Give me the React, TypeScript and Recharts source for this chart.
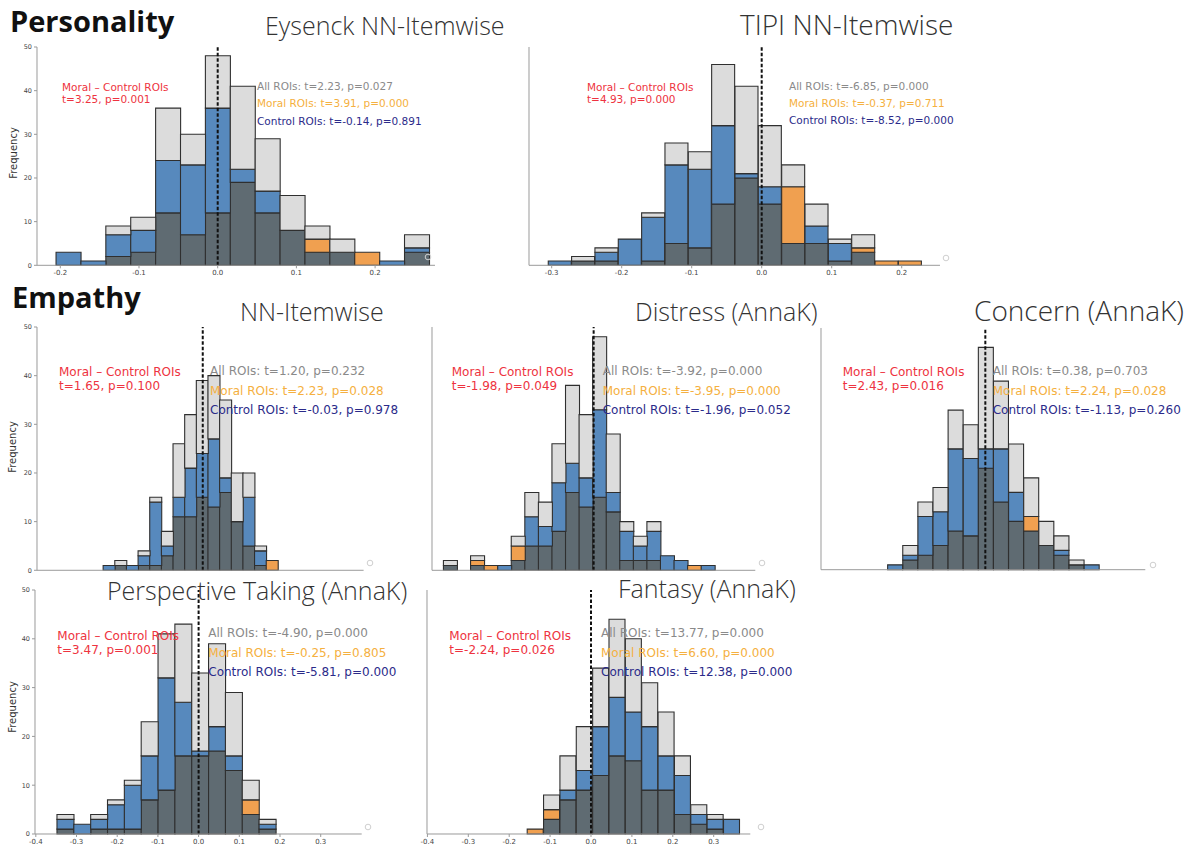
import React from 'react';
import { BarChart, Bar, XAxis, YAxis, ReferenceLine, Cell } from 'recharts';

// colours of the overlaid histograms
const LIGHT = '#dcdcdc';
const BLUE = '#5789bd';
const ORANGE = '#f0a050';
const DARK = '#5f6b72';
const EDGE = '#2f2f2f';

const RED_TXT = '#ee3340';
const GRAY_TXT = '#8a8a8a';
const ORANGE_TXT = '#f5b040';
const NAVY_TXT = '#2b2b8a';

const yTicks = [0, 10, 20, 30, 40, 50];

// Eysenck NN-Itemwise
const eysenckBins = [-0.2054, 0.269];
const eysenckMoral = [0, 0, 2, 3, 12, 7, 12, 19, 12, 8, 6, 3, 3, 0, 3];
const eysenckControl = [3, 1, 7, 8, 24, 23, 36, 22, 17, 8, 3, 3, 0, 1, 4];
const eysenckStats = ['t=3.25, p=0.001', 't=2.23, p=0.027', 't=3.91, p=0.000', 't=-0.14, p=0.891'];

// TIPI NN-Itemwise
const tipiBins = [-0.3049, 0.2286];
const tipiMoral = [0, 1, 1, 0, 1, 5, 4, 14, 20, 14, 18, 5, 1, 4, 1, 1];
const tipiControl = [1, 1, 3, 6, 11, 23, 22, 32, 21, 18, 5, 9, 5, 3, 0, 0];
const tipiStats = ['t=4.93, p=0.000', 't=-6.85, p=0.000', 't=-0.37, p=0.711', 't=-8.52, p=0.000'];

// Empathy NN-Itemwise
const nnBins = [-0.244, 0.184];
const nnMoral = [0, 1, 0, 1, 1, 3, 11, 11, 15, 13, 16, 10, 5, 1, 2];
const nnControl = [1, 1, 1, 3, 14, 5, 15, 21, 24, 27, 19, 10, 15, 4, 0];
const nnStats = ['t=1.65, p=0.100', 't=1.20, p=0.232', 't=2.23, p=0.028', 't=-0.03, p=0.978'];

// Distress (AnnaK)
const distressBins = [-0.368, 0.2966];
const distressMoral = [1, 0, 2, 1, 0, 5, 5, 5, 8, 16, 13, 15, 12, 2, 2, 2, 0, 0, 1, 0];
const distressControl = [1, 0, 1, 0, 1, 2, 11, 9, 18, 22, 19, 33, 16, 8, 5, 8, 3, 2, 0, 1];
const distressStats = ['t=-1.98, p=0.049', 't=-3.92, p=0.000', 't=-3.95, p=0.000', 't=-1.96, p=0.052'];

// Concern (AnnaK)
const concernBins = [-0.24, 0.28];
const concernMoral = [0, 2, 3, 5, 8, 7, 21, 14, 10, 11, 5, 3, 1, 0];
const concernControl = [1, 3, 11, 12, 25, 23, 25, 25, 16, 8, 5, 4, 1, 1];
const concernStats = ['t=2.43, p=0.016', 't=0.38, p=0.703', 't=2.24, p=0.028', 't=-1.13, p=0.260'];

// Perspective Taking (AnnaK)
const perspBins = [-0.348, 0.19];
const perspMoral = [1, 0, 1, 1, 1, 7, 9, 16, 16, 17, 13, 7, 1];
const perspControl = [3, 2, 3, 6, 10, 16, 32, 27, 17, 22, 16, 4, 2];
const perspStats = ['t=3.47, p=0.001', 't=-4.90, p=0.000', 't=-0.25, p=0.805', 't=-5.81, p=0.000'];

// Fantasy (AnnaK)
const fantasyBins = [-0.156, 0.364];
const fantasyMoral = [1, 5, 7, 9, 12, 16, 15, 9, 9, 4, 2, 1, 0];
const fantasyControl = [0, 3, 9, 13, 22, 28, 25, 22, 16, 12, 4, 3, 3];
const fantasyStats = ['t=-2.24, p=0.026', 't=13.77, p=0.000', 't=6.60, p=0.000', 't=12.38, p=0.000'];

const ticksA = [-0.2, -0.1, 0, 0.1, 0.2];
const ticksB = [-0.3, -0.2, -0.1, 0, 0.1, 0.2];
const ticksC = [-0.4, -0.3, -0.2, -0.1, 0, 0.1, 0.2, 0.3];

function buildRows(bins: number[], moral: number[], control: number[]) {
  const w = (bins[1] - bins[0]) / moral.length;
  return moral.map((m, i) => {
    const c = control[i];
    const low = Math.min(m, c);
    const high = Math.max(m, c);
    return { x: bins[0] + w * (i + 0.5), low, mid: high - low, top: low, moralOver: m > c };
  });
}

const panels = [
  { title: 'Eysenck NN-Itemwise', tx: 265, ty: 35, tf: 25, bins: eysenckBins, moral: eysenckMoral, control: eysenckControl, stats: eysenckStats,
    box: { left: 37, right: 435, top: 46.7, bottom: 265 }, domain: [-0.2296, 0.2761], ticks: ticksA, xl: true, yl: true,
    fs: 10.5, red: [62, 88, 100], st: [257, 87, 104, 122], freq: [14, 153], mark: [428, 257] },
  { title: 'TIPI NN-Itemwise', tx: 740, ty: 35, tf: 28, bins: tipiBins, moral: tipiMoral, control: tipiControl, stats: tipiStats,
    box: { left: 529, right: 940, top: 46.7, bottom: 265 }, domain: [-0.3324, 0.2547], ticks: ticksB, xl: true, yl: false,
    fs: 10.5, red: [587, 88, 100], st: [789, 87, 103.5, 121], freq: null, mark: [946, 258] },
  { title: 'NN-Itemwise', tx: 240, ty: 321, tf: 25, bins: nnBins, moral: nnMoral, control: nnControl, stats: nnStats,
    box: { left: 36.7, right: 363.3, top: 327.4, bottom: 570.7 }, domain: [-0.406, 0.394], ticks: ticksC, xl: false, yl: true,
    fs: 12, red: [59, 372.7, 386.7], st: [210, 371.7, 391, 410], freq: [13, 447], mark: [370, 563] },
  { title: 'Distress (AnnaK)', tx: 635, ty: 321, tf: 25, bins: distressBins, moral: distressMoral, control: distressControl, stats: distressStats,
    box: { left: 431.7, right: 755, top: 327.4, bottom: 570.7 }, domain: [-0.396, 0.396], ticks: ticksC, xl: false, yl: false,
    fs: 12, red: [451.7, 372.7, 386.7], st: [602.7, 371.7, 391, 410], freq: null, mark: [762, 563] },
  { title: 'Concern (AnnaK)', tx: 974, ty: 321, tf: 28, bins: concernBins, moral: concernMoral, control: concernControl, stats: concernStats,
    box: { left: 820.7, right: 1145, top: 328.3, bottom: 570 }, domain: [-0.4037, 0.393], ticks: ticksC, xl: false, yl: false,
    fs: 12, red: [842.7, 372.7, 386.7], st: [992.7, 371.7, 391, 410], freq: null, mark: [1153, 565] },
  { title: 'Perspective Taking (AnnaK)', tx: 107, ty: 600, tf: 25, bins: perspBins, moral: perspMoral, control: perspControl, stats: perspStats,
    box: { left: 35, right: 361.7, top: 590, bottom: 834 }, domain: [-0.402, 0.4007], ticks: ticksC, xl: true, yl: true,
    fs: 12, red: [57.3, 636, 650], st: [208.3, 633.3, 653.3, 672.7], freq: [13, 707], mark: [368, 827] },
  { title: 'Fantasy (AnnaK)', tx: 618, ty: 598, tf: 25, bins: fantasyBins, moral: fantasyMoral, control: fantasyControl, stats: fantasyStats,
    box: { left: 426.7, right: 750, top: 590, bottom: 834 }, domain: [-0.401, 0.3895], ticks: ticksC, xl: true, yl: false,
    fs: 12, red: [449.3, 636, 650], st: [601, 633.3, 653.3, 672.7], freq: null, mark: [761, 827] },
];

const YW = 24;
const XH = 16;
const MT = 3;
const MR = 3;

function Hist({ p }: { p: any }) {
  const rows = buildRows(p.bins, p.moral, p.control);
  const w = p.box.right - p.box.left + YW + MR;
  const h = p.box.bottom - p.box.top + MT + XH;
  return (
    <div style={{ position: 'absolute', left: p.box.left - YW, top: p.box.top - MT }}>
      <BarChart width={w} height={h} data={rows} margin={{ top: MT, right: MR, left: 0, bottom: 0 }} barCategoryGap={0} barGap={0}>
        <XAxis type="number" dataKey="x" domain={p.domain} allowDataOverflow ticks={p.ticks} interval={0} height={XH}
          tickSize={3} stroke="#9a9a9a" tickFormatter={(v: number) => v.toFixed(1)}
          tick={p.xl ? { fontSize: 7, fontFamily: 'DejaVu Sans', fill: '#444' } : false} />
        <YAxis type="number" domain={[0, 50]} ticks={yTicks} interval={0} width={YW} tickSize={3} stroke="#9a9a9a"
          tick={p.yl ? { fontSize: 6.5, fontFamily: 'DejaVu Sans', fill: '#444' } : false} />
        <Bar dataKey="low" stackId="h" fill={DARK} stroke={EDGE} strokeWidth={1.1} isAnimationActive={false} />
        <Bar dataKey="mid" stackId="h" stroke={EDGE} strokeWidth={1.1} isAnimationActive={false}>
          {rows.map((r, i) => <Cell key={i} fill={r.moralOver ? ORANGE : BLUE} />)}
        </Bar>
        <Bar dataKey="top" stackId="h" fill={LIGHT} stroke={EDGE} strokeWidth={1.1} isAnimationActive={false} />
        <ReferenceLine x={0} stroke="#111" strokeWidth={2} strokeDasharray="3.5 2" />
      </BarChart>
    </div>
  );
}

function Labels({ p }: { p: any }) {
  const [rx, r1, r2] = p.red;
  const [sx, s1, s2, s3] = p.st;
  const common = { fontFamily: 'DejaVu Sans', fontSize: p.fs, dominantBaseline: 'middle' as const };
  return (
    <g>
      <text x={p.tx} y={p.ty} fontFamily="Open Sans" fontWeight={300} fontSize={p.tf} fill="#333">{p.title}</text>
      <text x={rx} y={r1} fill={RED_TXT} {...common}>Moral – Control ROIs</text>
      <text x={rx} y={r2} fill={RED_TXT} {...common}>{p.stats[0]}</text>
      <text x={sx} y={s1} fill={GRAY_TXT} {...common}>All ROIs: {p.stats[1]}</text>
      <text x={sx} y={s2} fill={ORANGE_TXT} {...common}>Moral ROIs: {p.stats[2]}</text>
      <text x={sx} y={s3} fill={NAVY_TXT} {...common}>Control ROIs: {p.stats[3]}</text>
      {p.freq && (
        <text x={p.freq[0]} y={p.freq[1]} transform={`rotate(-90 ${p.freq[0]} ${p.freq[1]})`} textAnchor="middle"
          dominantBaseline="middle" fontFamily="DejaVu Sans" fontSize={10} fill="#333">Frequency</text>
      )}
      <circle cx={p.mark[0]} cy={p.mark[1]} r={2.8} fill="none" stroke="#cfcfcf" strokeWidth={1} />
    </g>
  );
}

export default function App() {
  return (
    <div style={{ position: 'absolute', left: 0, top: 0, width: 1201, height: 850, background: '#fff', overflow: 'hidden' }}>
      {panels.map((p, i) => <Hist key={i} p={p} />)}
      <svg width={1201} height={850} style={{ position: 'absolute', left: 0, top: 0, pointerEvents: 'none' }}>
        <text x={10} y={32} fontFamily="Open Sans" fontWeight={700} fontSize={29} fill="#111">Personality</text>
        <text x={12} y={308} fontFamily="Open Sans" fontWeight={700} fontSize={29} fill="#111">Empathy</text>
        {panels.map((p, i) => <Labels key={i} p={p} />)}
      </svg>
    </div>
  );
}
